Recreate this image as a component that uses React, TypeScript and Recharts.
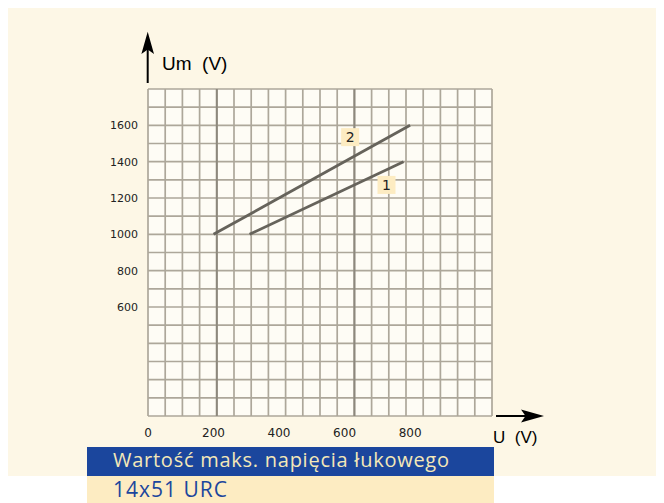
import React from 'react';
import { LineChart, Line, XAxis, YAxis, ReferenceLine, ReferenceArea, ReferenceDot } from 'recharts';

// ---- data ----
const xTicks = [0, 200, 400, 600, 800];
const yTicks = [600, 800, 1000, 1200, 1400, 1600];
const xDomain = [0, 1050];
const yDomain = [0, 1800];
const gridX = Array.from({ length: 21 }, (_, i) => i * 52.5);
const gridY = Array.from({ length: 19 }, (_, i) => i * 100);
const darkGridX = [210, 630];

const curve1 = [
  { u: 310, um: 1000 },
  { u: 780, um: 1400 },
];
const curve2 = [
  { u: 200, um: 1000 },
  { u: 800, um: 1600 },
];
const curveLabels = [
  { name: '1', u: 728, um: 1272 },
  { name: '2', u: 617, um: 1535 },
];

const title = 'Wartość maks. napięcia łukowego';
const subtitle = '14x51 URC';

const CREAM = '#fdf7e6';
const PLOT = '#fefcf5';
const GRID = '#ada79a';
const GRID_DARK = '#8d887d';
const LINE = '#66635b';
const PEACH = '#fdecc2';
const BLUE = '#1b469d';

const LabelBox = (props: any) => {
  const { cx, cy, label } = props;
  return (
    <g>
      <rect x={cx - 9} y={cy - 9} width={18} height={18} fill={PEACH} />
      <text x={cx} y={cy} textAnchor="middle" dominantBaseline="central" fontSize={14} fontFamily="DejaVu Sans, sans-serif" fill="#222">
        {label}
      </text>
    </g>
  );
};

export default function App() {
  return (
    <div style={{ position: 'relative', width: 654, height: 495 }}>
      <div style={{ position: 'absolute', left: 0, top: 0, width: 655, height: 468, background: CREAM }} />
      <div style={{ position: 'absolute', left: 0, top: 0 }}>
        <LineChart width={654} height={468} margin={{ top: 81, right: 170, bottom: 30, left: 100 }}>
          <XAxis
            dataKey="u"
            type="number"
            domain={xDomain}
            ticks={xTicks}
            allowDataOverflow
            axisLine={false}
            tickLine={false}
            tickSize={0}
            tickMargin={12}
            height={30}
            tick={{ fontSize: 12, fontFamily: 'DejaVu Sans, sans-serif', fill: '#222' }}
          />
          <YAxis
            type="number"
            domain={yDomain}
            ticks={yTicks}
            allowDataOverflow
            axisLine={false}
            tickLine={false}
            tickSize={0}
            tickMargin={10}
            width={40}
            tick={{ fontSize: 11, fontFamily: 'DejaVu Sans, sans-serif', fill: '#222' }}
          />
          <ReferenceArea x1={xDomain[0]} x2={xDomain[1]} y1={yDomain[0]} y2={yDomain[1]} fill={PLOT} fillOpacity={1} stroke="none" />
          {gridY.map((v) => (
            <ReferenceLine key={'gy' + v} y={v} stroke={GRID} strokeWidth={1.7} />
          ))}
          {gridX.map((v) => (
            <ReferenceLine key={'gx' + v} x={v} stroke={GRID} strokeWidth={1.7} />
          ))}
          {darkGridX.map((v) => (
            <ReferenceLine key={'dx' + v} x={v} stroke={GRID_DARK} strokeWidth={2} />
          ))}
          <Line data={curve2} dataKey="um" stroke={LINE} strokeWidth={2.8} dot={false} isAnimationActive={false} />
          <Line data={curve1} dataKey="um" stroke={LINE} strokeWidth={2.8} dot={false} isAnimationActive={false} />
          {curveLabels.map((l) => (
            <ReferenceDot key={l.name} x={l.u} y={l.um} shape={(p: any) => <LabelBox {...p} label={l.name} />} />
          ))}
        </LineChart>
      </div>
      <svg width={654} height={495} style={{ position: 'absolute', left: 0, top: 0, pointerEvents: 'none' }}>
        <line x1={139.7} y1={75} x2={139.7} y2={40} stroke="#000" strokeWidth={2} />
        <polygon points="139.7,23.7 146,46 139.7,41.5 133.4,46" fill="#000" />
        <text x={154} y={62} fontSize={19} fontFamily="Liberation Sans, Arial, sans-serif" fill="#000" style={{ whiteSpace: 'pre' }}>
          {'Um  (V)'}
        </text>
        <line x1={488} y1={408} x2={522} y2={408} stroke="#000" strokeWidth={2} />
        <polygon points="536,408 513,401.5 517.5,408 513,414.5" fill="#000" />
        <text x={485} y={435} fontSize={17} fontFamily="Liberation Sans, Arial, sans-serif" fill="#000" style={{ whiteSpace: 'pre' }}>
          {'U  (V)'}
        </text>
        <rect x={79} y={439} width={407} height={29} fill={BLUE} />
        <text x={105} y={459} fontSize={20} fontFamily="Open Sans, sans-serif" fill="#f4e8b8" textLength={336} lengthAdjust="spacing">
          {title}
        </text>
        <rect x={79} y={468} width={407} height={27} fill={PEACH} />
        <text x={105} y={489} fontSize={21} fontFamily="Open Sans, sans-serif" fill={BLUE} textLength={114} lengthAdjust="spacing">
          {subtitle}
        </text>
      </svg>
    </div>
  );
}
